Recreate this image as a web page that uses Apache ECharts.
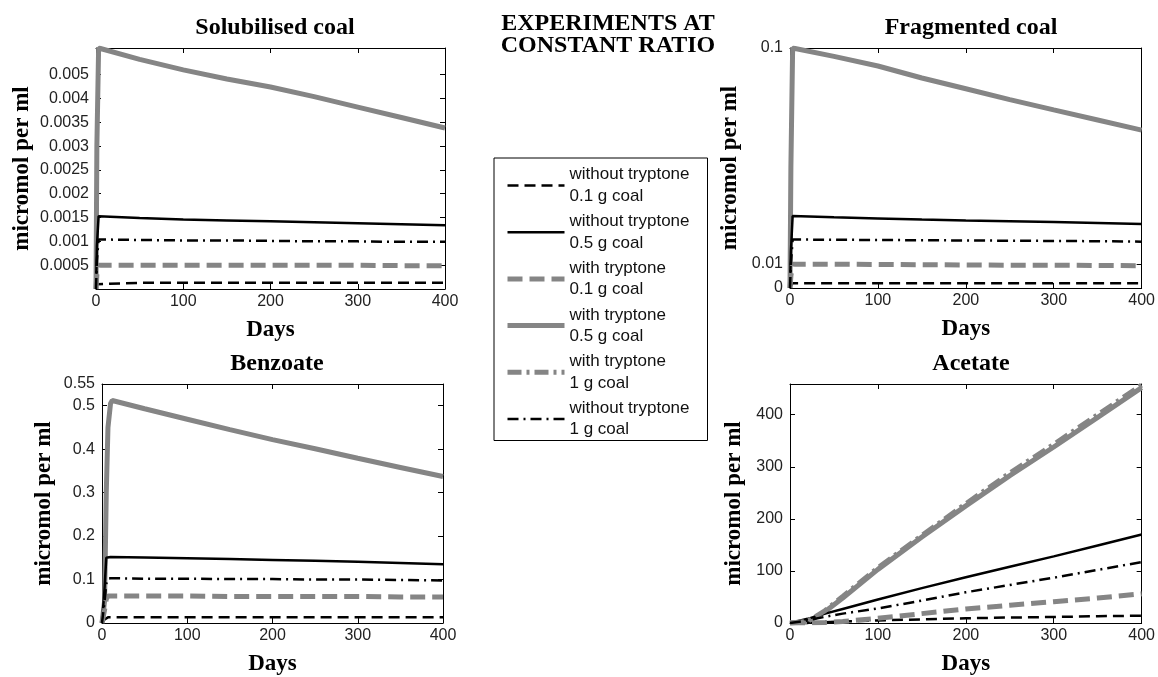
<!DOCTYPE html>
<html>
<head>
<meta charset="utf-8">
<script src="https://cdn.jsdelivr.net/npm/echarts@6/dist/echarts.min.js"></script>
<style>
  html, body { margin: 0; padding: 0; background: #fff; }
  #main { width: 1158px; height: 677px; }
</style>
</head>
<body>
<div id="main"></div>
<script>
// legend / series order
const seriesNames = [
  'without tryptone\n0.1 g coal',
  'without tryptone\n0.5 g coal',
  'with tryptone\n0.1 g coal',
  'with tryptone\n0.5 g coal',
  'with tryptone\n1 g coal',
  'without tryptone\n1 g coal'
];

// Solubilised coal
const solDays = [0, 1, 3, 50, 100, 150, 200, 250, 300, 350, 400];
const solWithout01 = [0, 0.0001, 0.00013, 0.00013, 0.00013, 0.00013, 0.00013, 0.00013, 0.00013, 0.00013, 0.00013];
const solWithout05 = [0, 0.0009, 0.00153, 0.00149, 0.00146, 0.00144, 0.00142, 0.0014, 0.00138, 0.00136, 0.00134];
const solWith01 = [0, 0.0003, 0.0005, 0.0005, 0.0005, 0.0005, 0.0005, 0.0005, 0.0005, 0.00049, 0.00049];
const solWith05 = [0, 0.003, 0.00506, 0.00482, 0.0046, 0.00441, 0.00424, 0.00404, 0.00382, 0.0036, 0.00338];
const solWithout1 = [0, 0.0006, 0.00104, 0.00103, 0.00102, 0.00102, 0.00101, 0.001, 0.001, 0.00099, 0.00099];
const solYTicks = [0.0005, 0.001, 0.0015, 0.002, 0.0025, 0.003, 0.0035, 0.004, 0.0045];
const solYLabels = ['0.0005', '0.001', '0.0015', '0.002', '0.0025', '0.003', '0.0035', '0.004', '0.005'];

// Fragmented coal
const fragDays = [0, 1, 3, 50, 100, 150, 200, 250, 300, 350, 400];
const fragWithout01 = [0, 0.001, 0.002, 0.002, 0.002, 0.002, 0.002, 0.002, 0.002, 0.002, 0.002];
const fragWithout05 = [0, 0.015, 0.03, 0.0295, 0.029, 0.0285, 0.0281, 0.0278, 0.0275, 0.0271, 0.0267];
const fragWith01 = [0, 0.005, 0.0099, 0.0099, 0.0098, 0.0097, 0.0096, 0.0095, 0.0095, 0.0094, 0.0093];
const fragWith05 = [0, 0.05, 0.1, 0.0965, 0.0925, 0.0875, 0.083, 0.0785, 0.0742, 0.07, 0.0658];
const fragWithout1 = [0, 0.01, 0.0202, 0.0201, 0.02, 0.0199, 0.0198, 0.0197, 0.0196, 0.0195, 0.0193];
const fragYTicks = [0, 0.01, 0.1];
const fragYLabels = ['0', '0.01', '0.1'];

// Benzoate
const benzDays = [0, 3, 5, 7, 10, 12, 50, 100, 150, 200, 250, 300, 350, 400];
const benzWithout01 = [0, 0.008, 0.012, 0.013, 0.013, 0.013, 0.013, 0.013, 0.013, 0.013, 0.013, 0.013, 0.013, 0.013];
const benzWithout05 = [0, 0.08, 0.15, 0.152, 0.152, 0.152, 0.151, 0.149, 0.147, 0.145, 0.143, 0.141, 0.138, 0.135];
const benzWith01 = [0, 0.03, 0.055, 0.062, 0.062, 0.062, 0.062, 0.062, 0.061, 0.061, 0.061, 0.061, 0.06, 0.06];
const benzWith05 = [0, 0.05, 0.3, 0.45, 0.505, 0.512, 0.493, 0.469, 0.445, 0.422, 0.401, 0.379, 0.358, 0.337];
const benzWithout1 = [0, 0.05, 0.09, 0.102, 0.103, 0.103, 0.102, 0.102, 0.101, 0.101, 0.1, 0.1, 0.099, 0.098];

// Acetate
const aceDays = [0, 20, 40, 60, 100, 150, 200, 250, 300, 350, 400];
const aceWithout01 = [0, 0.5, 1.5, 3, 5, 7, 9, 10.5, 11.5, 13, 14];
const aceWithout05 = [0, 8, 18, 27, 45, 67, 88, 108, 128, 149, 170];
const aceWith01 = [0, 0, 1, 3, 9, 18, 27, 34, 41, 48, 56];
const aceWith05 = [0, 2, 22, 48, 103, 165, 225, 283, 338, 395, 452];
const aceWith1 = [0, 3, 24, 51, 106, 168, 229, 288, 343, 400, 457];
const aceWithout1 = [0, 5, 12, 18, 28, 43, 59, 73, 87, 102, 117];

const GRAY = '#858585';
const lineStyles = [
  { color: '#000', width: 2.5, type: [11, 6] },
  { color: '#000', width: 2.5, type: 'solid' },
  { color: GRAY, width: 5, type: [15, 7] },
  { color: GRAY, width: 5, type: 'solid' },
  { color: GRAY, width: 5, type: [14, 5, 3, 5] },
  { color: '#000', width: 2.5, type: [11, 5, 2, 5] }
];

const grids = [
  { left: 96, top: 48, width: 349, height: 241 },
  { left: 790, top: 48, width: 353, height: 240 },
  { left: 102, top: 384, width: 341, height: 242 },
  { left: 790, top: 384, width: 352, height: 242 }
];

const serifBold = { fontFamily: 'Liberation Serif', fontWeight: 'bold', fontSize: 23, color: '#000' };
const titleFont = Object.assign({}, serifBold, { fontSize: 24 });
const tickFont = { fontFamily: 'Liberation Sans', fontSize: 16, color: '#222' };

function zip(days, vals) {
  return days.map((d, i) => [d, vals[i]]);
}

function lookupLabel(ticks, labels) {
  return function (v) {
    const i = ticks.findIndex(t => Math.abs(t - v) < 1e-9);
    return i >= 0 ? labels[i] : '';
  };
}

// per panel: days and series values in seriesNames order (null = not drawn)
const panels = [
  [solDays, [solWithout01, solWithout05, solWith01, solWith05, null, solWithout1]],
  [fragDays, [fragWithout01, fragWithout05, fragWith01, fragWith05, null, fragWithout1]],
  [benzDays, [benzWithout01, benzWithout05, benzWith01, benzWith05, null, benzWithout1]],
  [aceDays, [aceWithout01, aceWithout05, aceWith01, aceWith05, aceWith1, aceWithout1]]
];

const yDefs = [
  { min: 0, max: 0.00506, nameGap: 62, ticks: solYTicks, labels: solYLabels },
  { min: 0, max: 0.1, nameGap: 48, ticks: fragYTicks, labels: fragYLabels },
  { min: 0, max: 0.55, interval: 0.1, nameGap: 46 },
  { min: 0, max: 459, interval: 100, nameGap: 44, hideMax: true }
];

function boxLine() {
  return { show: true, onZero: false, lineStyle: { color: '#000', width: 1 } };
}
function inTick() {
  return { show: true, inside: true, length: 5, lineStyle: { color: '#000' } };
}

const xAxes = [], yAxes = [], series = [];
grids.forEach((g, gi) => {
  // bottom + mirrored top
  xAxes.push({
    type: 'value', gridIndex: gi, min: 0, max: 400, interval: 100, position: 'bottom',
    name: 'Days', nameLocation: 'middle', nameGap: 30, nameTextStyle: serifBold,
    axisLine: boxLine(), axisTick: inTick(),
    axisLabel: Object.assign({ margin: 5 }, tickFont),
    splitLine: { show: false }
  });
  xAxes.push({
    type: 'value', gridIndex: gi, min: 0, max: 400, interval: 100, position: 'top',
    axisLine: boxLine(), axisTick: inTick(),
    axisLabel: { show: false }, splitLine: { show: false }
  });
  const yd = yDefs[gi];
  const left = {
    type: 'value', gridIndex: gi, min: yd.min, max: yd.max, position: 'left',
    name: 'micromol per ml', nameLocation: 'middle', nameGap: yd.nameGap, nameRotate: 90,
    nameTextStyle: serifBold,
    axisLine: boxLine(), axisTick: inTick(),
    axisLabel: Object.assign({ margin: 7 }, tickFont),
    splitLine: { show: false }
  };
  const right = {
    type: 'value', gridIndex: gi, min: yd.min, max: yd.max, position: 'right',
    axisLine: boxLine(), axisTick: inTick(),
    axisLabel: { show: false }, splitLine: { show: false }
  };
  if (yd.ticks) {
    left.axisTick.customValues = yd.ticks;
    left.axisLabel.customValues = yd.ticks;
    left.axisLabel.formatter = lookupLabel(yd.ticks, yd.labels);
    right.axisTick.customValues = yd.ticks;
    right.axisLabel.customValues = yd.ticks;
  } else {
    left.interval = yd.interval;
    right.interval = yd.interval;
  }
  if (yd.hideMax) left.axisLabel.showMaxLabel = false;
  yAxes.push(left, right);

  const [days, vals] = panels[gi];
  vals.forEach((v, si) => {
    if (!v) return;
    const ls = lineStyles[si];
    series.push({
      name: seriesNames[si], type: 'line',
      xAxisIndex: gi * 2, yAxisIndex: gi * 2,
      data: zip(days, v),
      symbol: 'none', showSymbol: false, clip: true,
      color: ls.color,
      lineStyle: { color: ls.color, width: ls.width, type: ls.type },
      z: si === 3 ? 1 : 2
    });
  });
});

const option = {
  animation: false,
  backgroundColor: '#fff',
  title: [
    { text: 'EXPERIMENTS AT\nCONSTANT RATIO', left: 603, top: 8, textAlign: 'center',
      textStyle: Object.assign({}, titleFont, { lineHeight: 22 }) },
    { text: 'Solubilised coal', left: 270, top: 11, textAlign: 'center', textStyle: titleFont },
    { text: 'Fragmented coal', left: 966, top: 11, textAlign: 'center', textStyle: titleFont },
    { text: 'Benzoate', left: 272, top: 347, textAlign: 'center', textStyle: titleFont },
    { text: 'Acetate', left: 966, top: 347, textAlign: 'center', textStyle: titleFont }
  ],
  legend: {
    orient: 'vertical', left: 494, top: 158,
    padding: [6, 18, 0, 11],
    borderColor: '#000', borderWidth: 1,
    itemWidth: 57, itemHeight: 14, itemGap: 3.7,
    data: seriesNames.map((n, i) => ({
      name: n,
      lineStyle: { color: lineStyles[i].color, width: lineStyles[i].width, type: lineStyles[i].type }
    })),
    itemStyle: { opacity: 0 },
    textStyle: { fontFamily: 'Liberation Sans', fontSize: 17, color: '#111', lineHeight: 21.5 }
  },
  grid: grids.map(g => Object.assign({ containLabel: false }, g)),
  xAxis: xAxes,
  yAxis: yAxes,
  series: series
};

const chart = echarts.init(document.getElementById('main'));
chart.setOption(option);
</script>
</body>
</html>
